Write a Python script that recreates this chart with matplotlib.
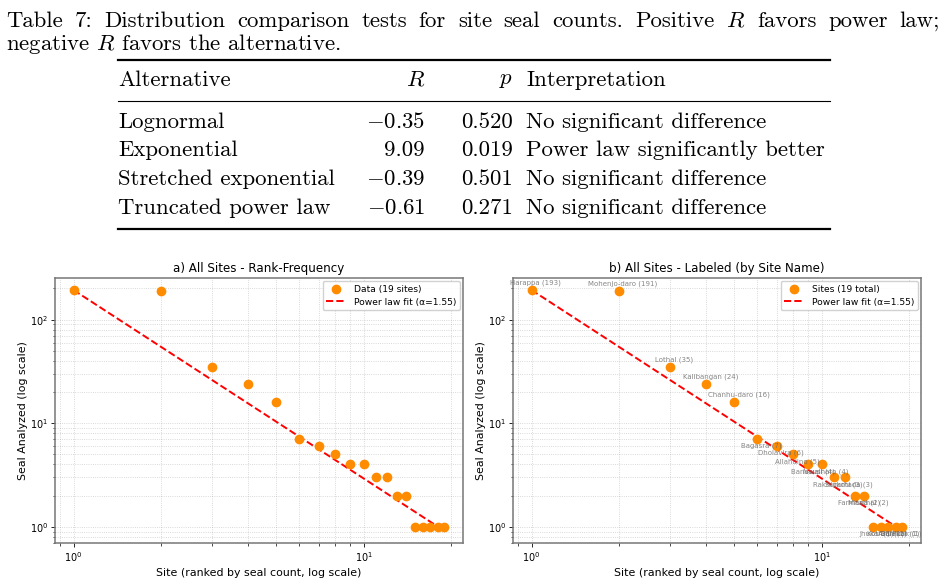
import matplotlib
matplotlib.use('Agg')
import matplotlib.pyplot as plt
import numpy as np

# data
sites = ['Harappa', 'Mohenjo-daro', 'Lothal', 'Kalibangan', 'Chanhu-daro',
         'Bagasra', 'Dholavira', 'Allahdino', 'Banawali', 'Nausharo',
         'Rakhigarhi', 'Surkotada', 'Farmana', 'Mitathal',
         'Jhukar', 'Kot Diji', 'Amri', 'Balakot', 'Pirak']
counts = [193, 191, 35, 24, 16, 7, 6, 5, 4, 4, 3, 3, 2, 2, 1, 1, 1, 1, 1]
alpha = 1.55

alternatives = ['Lognormal', 'Exponential', 'Stretched exponential', 'Truncated power law']
R_vals = [-0.35, 9.09, -0.39, -0.61]
p_vals = [0.520, 0.019, 0.501, 0.271]
interp = ['No significant difference', 'Power law significantly better',
          'No significant difference', 'No significant difference']

caption1 = 'Table 7: Distribution comparison tests for site seal counts.  Positive $R$ favors power law;'
caption2 = 'negative $R$ favors the alternative.'

W, H = 946, 583
fig = plt.figure(figsize=(W / 100, H / 100), dpi=100)

def px(x, y):
    return x / W, 1 - y / H

# ---- table part (LaTeX look) ----
serif = dict(family='cmr10', math_fontfamily='cm', fontsize=16.4, color='black')

def fmt(v):
    s = '%.2f' % abs(v)
    return ('$-$' + s) if v < 0 else s

def justified(line, x0, x1, y):
    # spread words over the full line width, like LaTeX does
    words = line.split()
    texts = [fig.text(0, 0, w, va='center', ha='left', **serif) for w in words]
    r = fig.canvas.get_renderer()
    widths = [t.get_window_extent(r).width for t in texts]
    gap = (x1 - x0 - sum(widths)) / (len(words) - 1)
    x = x0
    for t, w in zip(texts, widths):
        t.set_position(px(x, y))
        x += w + gap

justified(caption1, 6, 940, 21)
fig.text(*px(6, 44), caption2, va='center', ha='left', **serif)

for yy, lw in [(60, 1.6), (101, 0.8), (229, 1.6)]:
    fig.add_artist(plt.Line2D([118 / W, 830 / W], [1 - yy / H] * 2, color='black', lw=lw))

fig.text(*px(118, 80), 'Alternative', va='center', ha='left', **serif)
fig.text(*px(425, 80), '$R$', va='center', ha='right', **serif)
fig.text(*px(513, 80), '$p$', va='center', ha='right', **serif)
fig.text(*px(526, 80), 'Interpretation', va='center', ha='left', **serif)

row_y = [122, 150, 179, 208]
for k in range(len(alternatives)):
    fig.text(*px(118, row_y[k]), alternatives[k], va='center', ha='left', **serif)
    fig.text(*px(425, row_y[k]), fmt(R_vals[k]), va='center', ha='right', **serif)
    fig.text(*px(513, row_y[k]), '%.3f' % p_vals[k], va='center', ha='right', **serif)
    fig.text(*px(526, row_y[k]), interp[k], va='center', ha='left', **serif)

# ---- plots ----
ranks = np.arange(1, len(counts) + 1)
fit = counts[0] * ranks ** (-1.0 / (alpha - 1))

ax1 = fig.add_axes([55 / W, 1 - 543 / H, 408 / W, 265 / H])
ax2 = fig.add_axes([513 / W, 1 - 543 / H, 408 / W, 265 / H])

titles = ['a) All Sites - Rank-Frequency', 'b) All Sites - Labeled (by Site Name)']
dlabels = ['Data (19 sites)', 'Sites (19 total)']

for ax, t, dl in zip([ax1, ax2], titles, dlabels):
    ax.scatter(ranks, counts, s=36, color='darkorange', zorder=3, label=dl)
    ax.plot(ranks, fit, 'r--', lw=1.4, label='Power law fit (α=%.2f)' % alpha, zorder=2)
    ax.set_xscale('log')
    ax.set_yscale('log')
    ax.grid(True, which='both', ls=':', lw=0.6, color='gray', alpha=0.4)
    ax.set_title(t, fontsize=8.6, pad=4)
    ax.set_xlabel('Site (ranked by seal count, log scale)', fontsize=7.9, labelpad=3)
    ax.set_ylabel('Seal Analyzed (log scale)', fontsize=7.9, labelpad=1.5)
    ax.tick_params(labelsize=7, length=3, width=0.6, pad=2)
    ax.tick_params(which='minor', length=1.8, width=0.5)
    for sp in ax.spines.values():
        sp.set_color('#777777')
        sp.set_linewidth(1.1)
    ax.legend(loc='upper right', fontsize=6.6, framealpha=0.9, borderpad=0.4,
              handlelength=2.2, labelspacing=0.4, borderaxespad=0.35)

for i in range(len(sites)):
    dy = 5 if i < 5 else -5
    ax2.annotate('%s (%d)' % (sites[i], counts[i]), (ranks[i], counts[i]),
                 xytext=(3, dy), textcoords='offset points', ha='center', va='center',
                 fontsize=5, color='dimgray', alpha=0.8)

fig.savefig('out.png', dpi=100)
